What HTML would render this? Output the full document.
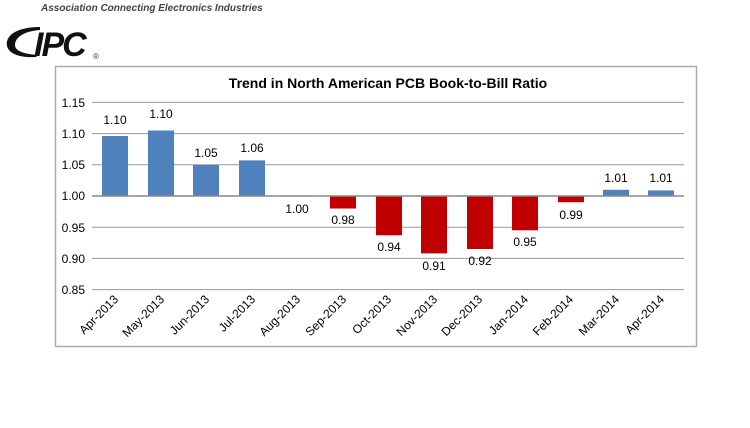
<!DOCTYPE html>
<html><head><meta charset="utf-8"><style>
html,body{margin:0;padding:0;background:#fff;width:750px;height:428px;overflow:hidden}
svg{display:block}
text{font-family:"Liberation Sans",Arial,sans-serif}
</style></head><body>
<svg width="750" height="428" viewBox="0 0 750 428" xmlns="http://www.w3.org/2000/svg">
<text x="41" y="11" font-size="10" font-style="italic" font-weight="bold" fill="#444">Association Connecting Electronics Industries</text>
<!-- logo -->
<path d="M40 27 C16 27 5 36 7 46 C9 54 20 58 36 57 L38 55 C24 54 15 51 15 45 C15 37 25 31 40 30 Z" fill="#111"/>
<text x="34" y="56" font-size="34" font-weight="bold" font-style="italic" fill="#111" letter-spacing="-2">IPC</text>
<text x="93" y="59" font-size="8" fill="#333">®</text>
<rect x="55.5" y="66.5" width="641" height="280" fill="#fff" stroke="#aaa" stroke-width="1.5"/>
<text x="388" y="88" font-size="14" font-weight="bold" text-anchor="middle" fill="#000">Trend in North American PCB Book-to-Bill Ratio</text>
<g stroke="#999" stroke-width="1">
<line x1="92" x2="684" y1="102.4" y2="102.4"/>
<line x1="92" x2="684" y1="133.6" y2="133.6"/>
<line x1="92" x2="684" y1="164.8" y2="164.8"/>
<line x1="92" x2="684" y1="227.2" y2="227.2"/>
<line x1="92" x2="684" y1="258.4" y2="258.4"/>
<line x1="92" x2="684" y1="289.6" y2="289.6"/>
</g>
<g font-size="12" fill="#000" text-anchor="end">
<text x="85" y="107">1.15</text><text x="85" y="138">1.10</text><text x="85" y="169">1.05</text>
<text x="85" y="200">1.00</text><text x="85" y="232">0.95</text><text x="85" y="263">0.90</text><text x="85" y="294">0.85</text>
</g>
<g fill="#4f81bd">
<rect x="102" y="136" width="26" height="60"/>
<rect x="148" y="130.5" width="26" height="65.5"/>
<rect x="193" y="165" width="26" height="31"/>
<rect x="239" y="160.4" width="26" height="35.6"/>
<rect x="603" y="189.8" width="26" height="6.2"/>
<rect x="648" y="190.4" width="26" height="5.6"/>
</g>
<g fill="#c00000">
<rect x="330" y="196" width="26" height="12.5"/>
<rect x="376" y="196" width="26" height="39.3"/>
<rect x="421" y="196" width="26" height="57.4"/>
<rect x="467" y="196" width="26" height="53"/>
<rect x="512" y="196" width="26" height="34.3"/>
<rect x="558" y="196" width="26" height="6.2"/>
</g>
<line x1="92" x2="684" y1="196" y2="196" stroke="#888" stroke-width="1.5"/>
<g font-size="12" fill="#000" text-anchor="middle">
<text x="115" y="124">1.10</text><text x="161" y="118">1.10</text><text x="206" y="157">1.05</text><text x="252" y="152">1.06</text>
<text x="297" y="213">1.00</text><text x="343" y="224">0.98</text><text x="389" y="251">0.94</text><text x="434" y="270">0.91</text>
<text x="480" y="265">0.92</text><text x="525" y="246">0.95</text><text x="571" y="219">0.99</text>
<text x="616" y="182">1.01</text><text x="661" y="182">1.01</text>
</g>
<g font-size="12" fill="#000" text-anchor="end">
<text transform="translate(119,300) rotate(-45)">Apr-2013</text>
<text transform="translate(165,300) rotate(-45)">May-2013</text>
<text transform="translate(210,300) rotate(-45)">Jun-2013</text>
<text transform="translate(256,300) rotate(-45)">Jul-2013</text>
<text transform="translate(301,300) rotate(-45)">Aug-2013</text>
<text transform="translate(347,300) rotate(-45)">Sep-2013</text>
<text transform="translate(392,300) rotate(-45)">Oct-2013</text>
<text transform="translate(438,300) rotate(-45)">Nov-2013</text>
<text transform="translate(483,300) rotate(-45)">Dec-2013</text>
<text transform="translate(529,300) rotate(-45)">Jan-2014</text>
<text transform="translate(574,300) rotate(-45)">Feb-2014</text>
<text transform="translate(620,300) rotate(-45)">Mar-2014</text>
<text transform="translate(665,300) rotate(-45)">Apr-2014</text>
</g>
</svg>
</body></html>
